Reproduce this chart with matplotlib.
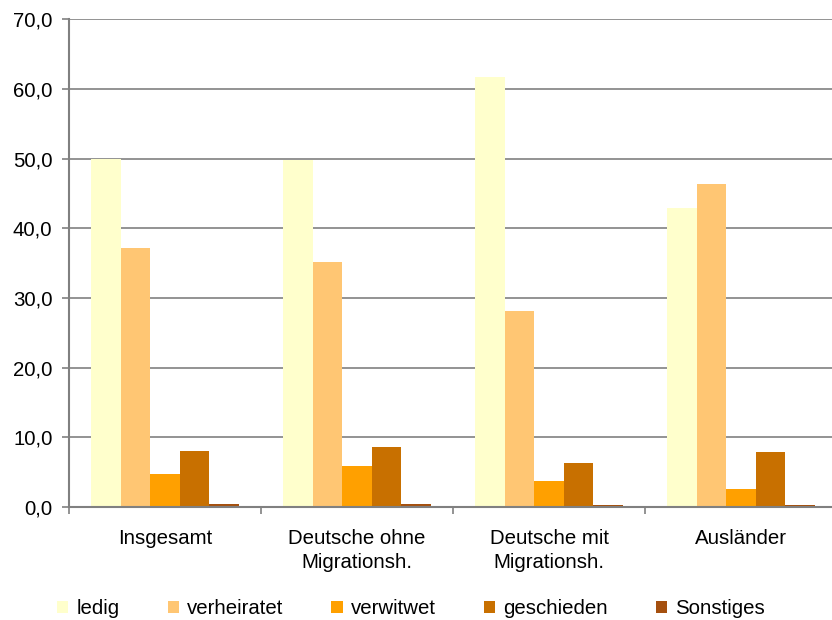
import numpy as np
import matplotlib.pyplot as plt
from matplotlib.patches import Patch

plt.rcParams['font.family'] = ['Liberation Sans', 'DejaVu Sans']

categories = ["Insgesamt", "Deutsche ohne\nMigrationsh.", "Deutsche mit\nMigrationsh.", "Ausländer"]
series = ["ledig", "verheiratet", "verwitwet", "geschieden", "Sonstiges"]
ledig = [49.9, 49.8, 61.7, 42.9]
verheiratet = [37.2, 35.2, 28.1, 46.3]
verwitwet = [4.7, 5.9, 3.7, 2.6]
geschieden = [8.0, 8.6, 6.3, 7.9]
sonstiges = [0.4, 0.4, 0.3, 0.3]
colors = ["#FFFFCC", "#FFC673", "#FFA000", "#C87000", "#A5500F"]

values = [ledig, verheiratet, verwitwet, geschieden, sonstiges]
fs = 14.7

fig = plt.figure(figsize=(8.32, 6.2), dpi=100)
ax = fig.add_axes([0.083, 0.182, 0.923, 0.787])

x = np.arange(len(categories))
w = 0.154
for i, (vals, c) in enumerate(zip(values, colors)):
    ax.bar(x + (i - 2) * w, vals, width=w, color=c, zorder=2)

ax.set_xlim(-0.5, 3.5)
ax.set_ylim(0, 70)
ax.set_yticks(np.arange(0, 71, 10))
ax.set_yticklabels([f"{v:.1f}".replace(".", ",") for v in np.arange(0, 71, 10)], fontsize=fs)
ax.yaxis.grid(True, color="#808080", linewidth=1.2, zorder=0)
ax.set_axisbelow(True)

ax.set_xticks(x)
ax.set_xticklabels(categories, fontsize=fs, linespacing=1.3)
ax.tick_params(axis="x", which="major", length=0, pad=16)
ax.set_xticks(np.arange(-0.5, 3.6, 1), minor=True)
ax.tick_params(axis="x", which="minor", length=5, color="#808080", width=1.2)
ax.tick_params(axis="y", length=5, color="#808080", width=1.2, pad=7)

for s in ["top", "right"]:
    ax.spines[s].set_visible(False)
for s in ["left", "bottom"]:
    ax.spines[s].set_color("#808080")
    ax.spines[s].set_linewidth(1.5)

handles = [Patch(facecolor=c, label=s) for s, c in zip(series, colors)]
fig.legend(handles=handles, loc="center", bbox_to_anchor=(0.494, 0.018), ncol=5, frameon=False,
           fontsize=fs, handlelength=0.55, handleheight=0.55, handletextpad=0.4, columnspacing=2.35,
           borderpad=0)

fig.savefig("out.png", dpi=100)
